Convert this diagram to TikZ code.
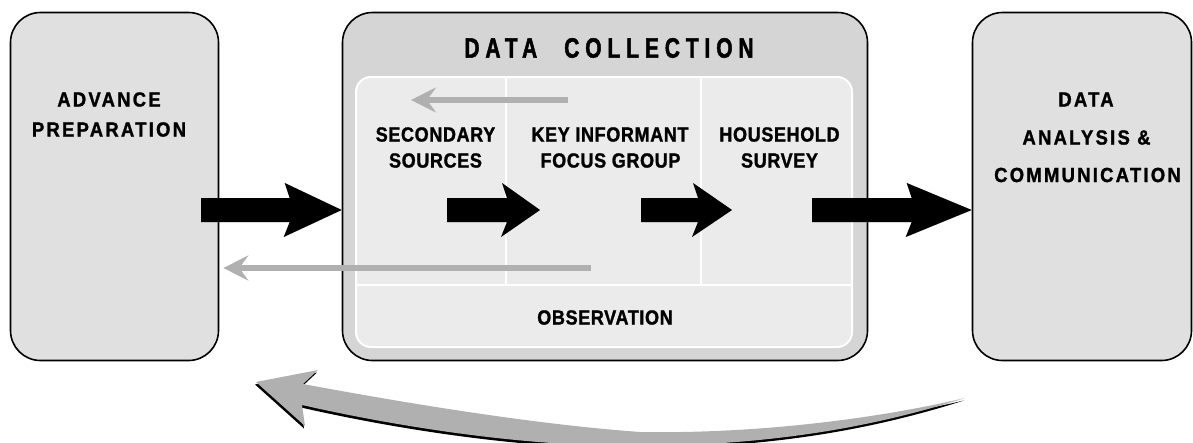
\documentclass[tikz,border=0pt]{standalone}
\usepackage{fontspec}
\setmainfont{Liberation Sans}
\newfontfamily\outerfont{Liberation Sans}[FakeStretch=0.9,LetterSpace=11,FakeBold=1.3,BoldFont={Liberation Sans Bold}]
\newfontfamily\innerfont{Liberation Sans}[FakeStretch=0.88,LetterSpace=3,FakeBold=1.3,BoldFont={Liberation Sans Bold}]
\newfontfamily\titlefont{Liberation Sans}[FakeStretch=0.75,LetterSpace=21,FakeBold=1.6,BoldFont={Liberation Sans Bold}]
\usetikzlibrary{arrows.meta,calc}
\definecolor{boxgray}{HTML}{E0E0E0}
\definecolor{midgray}{HTML}{D5D5D5}
\definecolor{panelgray}{HTML}{EBEBEB}
\definecolor{arrowgray}{HTML}{B0B0B0}
\definecolor{shadowgray}{HTML}{BBBBBB}
\tikzset{
  stagebox/.style={draw=black, line width=1.6pt, rounded corners=30pt, inner sep=0pt},
  outerlbl/.style={inner sep=0pt, font=\outerfont\bfseries\fontsize{20.5}{24}\selectfont},
  innerlbl/.style={inner sep=0pt, font=\innerfont\bfseries\fontsize{20.5}{24}\selectfont},
  titlelbl/.style={inner sep=0pt, font=\titlefont\bfseries\fontsize{28}{30}\selectfont},
  divider/.style={draw=white, line width=1.2pt},
  backarrow/.style={draw=arrowgray, line width=6pt,
    -{Stealth[length=25pt,width=25pt,inset=9pt]}},
}
% block arrow: #1 style, #2 start coordinate, #3 tip coordinate, #4 head length
\newcommand\blockarrow[4]{%
  \fill[#1] ($(#2)+(0,-12)$) -- ($(#3)+({-#4+5},-12)$) -- ($(#3)+(-#4,-27)$) -- (#3)
    -- ($(#3)+({-#4-1},27)$) -- ($(#3)+({-#4+5},12)$) -- ($(#2)+(0,12)$) -- cycle;}
\newcommand\feedbackpath{(256,382) -- (318,370) -- (303,384)
  .. controls (400,402) and (530,424) .. (640,432)
  .. controls (760,434) and (880,418) .. (965,398)
  .. controls (880,425) and (780,445) .. (640,446)
  .. controls (520,447) and (390,425) .. (302,405) -- (305,426) -- cycle}
\begin{document}
\begin{tikzpicture}[x=1pt,y=-1pt]
\useasboundingbox (0,0) rectangle (1193,442);
\fill[white] (0,0) rectangle (1193,442);

% stage boxes
\node[stagebox, fill=boxgray, minimum width=208pt, minimum height=348pt] (prep) at (114.5,186.5) {};
\node[stagebox, fill=midgray, minimum width=525pt, minimum height=348pt] (coll) at (605,186.5) {};
\node[stagebox, fill=boxgray, minimum width=219pt, minimum height=348pt] (anal) at (1082,186.5) {};

% inner panel
\node[draw=white, line width=2pt, fill=panelgray, rounded corners=15pt,
      minimum width=496pt, minimum height=270pt, inner sep=0pt] (panel) at (604,212) {};
\draw[divider] (506,77) -- (506,285);
\draw[divider] (701,77) -- (701,285);
\draw[divider] (356,285) -- (852,285);

% labels
\node[titlelbl] (title) at (609,48) {DATA\hspace{27pt}COLLECTION};
\node[outerlbl] (prep1) at (109,99.5) {ADVANCE};
\node[outerlbl] (prep2) at (109,129.5) {PREPARATION};
\node[outerlbl] (anal1) at (1086,99.5) {DATA};
\node[outerlbl] (anal2) at (1086.5,137.5) {ANALYSIS \&};
\node[outerlbl] (anal3) at (1087.5,175) {COMMUNICATION};
\node[innerlbl] (sec1) at (435.5,134.5) {SECONDARY};
\node[innerlbl] (sec2) at (435.5,160.5) {SOURCES};
\node[innerlbl] (key1) at (610,134.5) {KEY INFORMANT};
\node[innerlbl] (key2) at (610.5,160.5) {FOCUS GROUP};
\node[innerlbl] (hh1) at (779.5,134.5) {HOUSEHOLD};
\node[innerlbl] (hh2) at (779.5,160.5) {SURVEY};
\node[innerlbl] (obs) at (605,317.5) {OBSERVATION};

% block arrow endpoints
\coordinate (a1s) at (201,210);
\coordinate (a1t) at (coll.west |- a1s);
\coordinate (a2s) at (447,210);
\coordinate (a2t) at (540,210);
\coordinate (a3s) at (641,210);
\coordinate (a3t) at (732,210);
\coordinate (a4s) at (812,210);
\coordinate (a4t) at (anal.west |- a4s);

% shadows of block arrows
\begin{scope}[shift={(-5,3.5)}]
\blockarrow{shadowgray}{a1s}{a1t}{57}
\blockarrow{shadowgray}{a2s}{a2t}{38}
\blockarrow{shadowgray}{a3s}{a3t}{39}
\blockarrow{shadowgray}{a4s}{a4t}{65}
\end{scope}
\blockarrow{black}{a1s}{a1t}{57}
\blockarrow{black}{a2s}{a2t}{38}
\blockarrow{black}{a3s}{a3t}{39}
\blockarrow{black}{a4s}{a4t}{65}

% thin grey back arrows
\coordinate (b1s) at (568,100);
\coordinate (b1t) at (411,100);
\coordinate (b2s) at (591,268);
\coordinate (b2t) at ([xshift=4pt]prep.east |- b2s);
\draw[backarrow] (b1s) -- (b1t);
\draw[backarrow] (b2s) -- (b2t);

% curved feedback arrow
\begin{scope}[shift={(-1,2.5)}]
\fill[black] \feedbackpath;
\end{scope}
\fill[arrowgray] \feedbackpath;
\end{tikzpicture}
\end{document}
